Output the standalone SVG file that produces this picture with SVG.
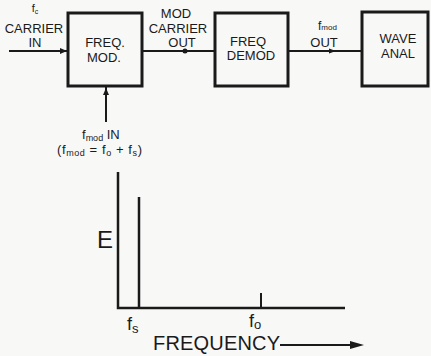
<svg xmlns="http://www.w3.org/2000/svg" width="431" height="356" viewBox="0 0 431 356">
<defs>
<style>
.box{fill:none;stroke:#1a1a1a;stroke-width:3}
.ln{fill:none;stroke:#1a1a1a;stroke-width:2}
.t{font-family:"Liberation Sans",Arial,sans-serif;fill:#1a1a1a}
.s13{font-size:13px}
.mid{text-anchor:middle}
.ah{fill:#1a1a1a}
</style>
</defs>
<rect width="431" height="356" fill="#f8f8f7"/>

<g id="freq-mod">
<rect class="box" x="68" y="13" width="74" height="73"/>
<text class="t s13 mid" x="105" y="47">FREQ.</text>
<text class="t s13 mid" x="104" y="62">MOD.</text>
</g>
<g id="freq-demod">
<rect class="box" x="215" y="13" width="73" height="73"/>
<text class="t s13 mid" x="248" y="46">FREQ</text>
<text class="t s13 mid" x="251" y="60">DEMOD</text>
</g>
<g id="wave-anal">
<rect class="box" x="362" y="12" width="66" height="74"/>
<text class="t s13 mid" x="398" y="43">WAVE</text>
<text class="t s13 mid" x="398" y="58">ANAL</text>
</g>

<g id="connectors">
<line class="ln" x1="9" y1="51" x2="68" y2="51"/>
<path class="ah" d="M60,48 L67,51 L60,54 z"/>
<line class="ln" x1="142" y1="51" x2="215" y2="51"/>
<circle class="ah" cx="185" cy="51" r="2.5"/>
<line class="ln" x1="288" y1="51" x2="362" y2="51"/>
<path class="ah" d="M329,48.5 L336,51 L329,53.5 z"/>
<line class="ln" x1="106" y1="122" x2="106" y2="86"/>
<path class="ah" d="M103,95 L106,88 L109,95 z"/>
</g>

<g id="labels">
<text class="t mid" x="35" y="12" style="font-size:11px">f<tspan style="font-size:7px" dy="2">c</tspan></text>
<text class="t s13 mid" x="34" y="33">CARRIER</text>
<text class="t s13 mid" x="35" y="47">IN</text>
<text class="t s13 mid" x="176" y="18">MOD</text>
<text class="t s13 mid" x="178" y="33">CARRIER</text>
<text class="t s13 mid" x="182" y="47">OUT</text>
<text class="t" x="318" y="30" style="font-size:12px">f<tspan style="font-size:8px">mod</tspan></text>
<text class="t s13 mid" x="324" y="47">OUT</text>
<text class="t" x="82" y="139" style="font-size:13px">f<tspan style="font-size:9px" dy="2">mod</tspan><tspan dy="-2"> IN</tspan></text>
<text class="t" x="57" y="154" style="font-size:13px" textLength="85">(f<tspan style="font-size:9px" dy="2">mod</tspan><tspan dy="-2"> = f</tspan><tspan style="font-size:9px" dy="2">o</tspan><tspan dy="-2"> + f</tspan><tspan style="font-size:9px" dy="2">s</tspan><tspan dy="-2">)</tspan></text>
</g>

<g id="spectrum">
<polyline class="ln" points="118,172 118,308 345,308" style="stroke-width:2.5"/>
<line class="ln" x1="139" y1="197" x2="139" y2="308" style="stroke-width:2.5"/>
<line class="ln" x1="261" y1="293" x2="261" y2="308"/>
<text class="t" x="97" y="248" style="font-size:24px">E</text>
<text class="t" x="127" y="330" style="font-size:18px">f<tspan style="font-size:13px" dy="3">s</tspan></text>
<text class="t" x="249" y="327" style="font-size:18px">f<tspan style="font-size:13px" dy="2">o</tspan></text>
<text class="t" x="153" y="350" style="font-size:20px" textLength="127">FREQUENCY</text>
<line class="ln" x1="280" y1="345" x2="352" y2="345"/>
<path class="ah" d="M350,341 L364,345 L350,349 z"/>
</g>
</svg>
